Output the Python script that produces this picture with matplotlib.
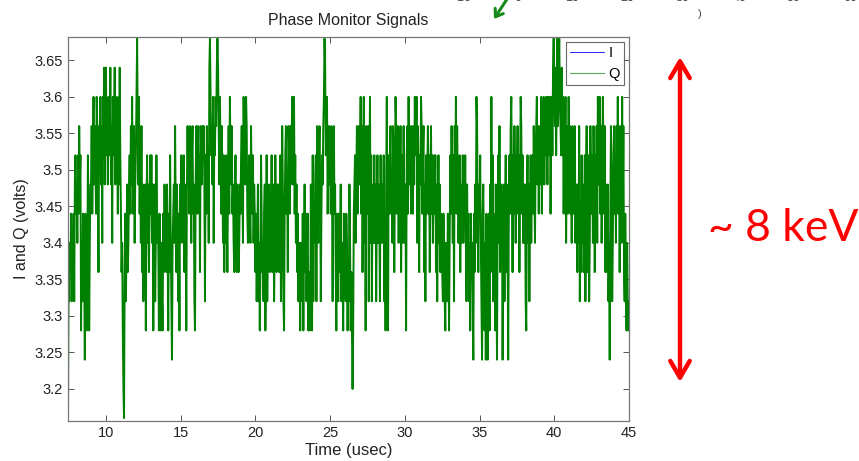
import numpy as np
import matplotlib
matplotlib.use("Agg")
from matplotlib import pyplot as plt
from matplotlib.ticker import FormatStrFormatter

# quantised Q samples, one char per sample (index into q_volts)
q_volts = [3.16, 3.20, 3.24, 3.28, 3.32, 3.36, 3.40, 3.44, 3.48,
           3.52, 3.56, 3.60, 3.64, 3.68]
q_levels = [
    "0546574657489",
    "78697a893647" "652763597368",
    "8a79b8a97ba8" "5a9b8a6b9c8a",
    "c9a8ba9c8a6b" "9ac8b9a7b8c9",
    "756310574685" "6897a8b79a68",
    "9bda8b796a58" "467837968579",
    "796837846976" "637536437586",
    "758637596426" "786a75864738",
    "69786958738a" "897a869a7843",
    "8a97a895a98a" "9a8497a896cd",
    "b9a8b6a9bacd" "ca8b97a86958",
    "69758a7b98a7" "865796587568",
    "79a86b9a8ba7" "68976a879687",
    "574684635975" "647835946785",
    "769578469758" "6857946a8437",
    "9a785a97a89b" "8ab796857465",
    "365473685746" "735438639476",
    "894a769a8479" "8abdc9ab79a8",
    "97a849a78537" "647568465375",
    "547635486353" "1378968a79a8",
    "9b7a58b693a8" "7a48b6947869",
    "684796874967" "8694738b6397",
    "9a786a958ba7" "8a697a5896a7",
    "6839a7b8a97a" "97a8b9ab6a85",
    "98ba79a58497" "8a7958a79689",
    "795847968576" "547643654763",
    "697a8694a8b7" "a86795867968",
    "796485746375" "6427586ba758",
    "796427853627" "5267385b6947",
    "63852796a578" "726847958627",
    "97ab8597a869" "8a7958ba7968",
    "684379684796" "897a869ab8a7",
    "9a8b79ab8a9b" "a8b9ab7ab9cd",
    "bac9bdacdba9" "c9b7a8b69a7b",
    "8a796a879a68" "7586a4759685",
    "6948a57946a8" "796a8597a6b8",
    "9b7a68b97a58" "7584627a8469",
    "a796a8b795a8" "6b7a547536434",
]
t_start, t_end = 7.46, 45.0
x_ticks = [10, 15, 20, 25, 30, 35, 40, 45]
y_ticks = [3.2, 3.25, 3.3, 3.35, 3.4, 3.45, 3.5, 3.55, 3.6, 3.65]
top_labels = ["-10", "0", "10", "20", "30", "40", "50", "60"]
top_label_x = [463, 518, 572, 627, 683, 740, 793, 850]

q = np.array([q_volts[int(c, 16)] for c in "".join(q_levels)])
t = np.linspace(t_start, t_end, len(q))

plt.rcParams['font.family'] = ['Liberation Sans', 'DejaVu Sans']

W, H = 859, 461
fig = plt.figure(figsize=(W / 100, H / 100), dpi=100)
ax = fig.add_axes([68 / W, 1 - 421 / H, (629 - 68) / W, (421 - 37) / H])

ax.plot([], [], color='#0000ff', lw=0.6, label='I')
ax.plot(t, q, color='#008000', lw=1.4, label='Q')

ax.set_xlim(t_start, t_end)
ax.set_ylim(3.156, 3.682)
ax.set_xticks(x_ticks)
ax.set_yticks(y_ticks)
ax.yaxis.set_major_formatter(FormatStrFormatter('%g'))
ax.tick_params(direction='in', top=True, right=True, length=4, width=0.7,
               color='#555555', labelsize=10.5, labelcolor='#222222')
for s in ax.spines.values():
    s.set_color('#777777')
    s.set_linewidth(0.9)

ax.set_title('Phase Monitor Signals', fontsize=11.5, color='#222222', pad=9)
ax.set_xlabel('Time (usec)', fontsize=12, color='#222222', labelpad=2)
ax.set_ylabel('I and Q (volts)', fontsize=11.5, color='#222222', labelpad=4)

leg = ax.legend(loc='upper right', fontsize=10.5, fancybox=False,
                borderaxespad=0.35, handlelength=2.3, handletextpad=0.3,
                labelspacing=0.45, borderpad=0.3)
leg.get_frame().set_edgecolor('#444444')
leg.get_frame().set_linewidth(0.8)
leg.get_lines()[1].set_linewidth(0.8)
leg.get_lines()[1].set_color('#5aa85a')

# red span arrow and note on the right
ax.annotate('', xy=(680 / W, 1 - 57 / H), xytext=(680 / W, 1 - 382 / H),
            xycoords='figure fraction', textcoords='figure fraction',
            arrowprops=dict(arrowstyle='<->,head_length=1.2,head_width=0.7',
                            color='#ff0000', lw=3.2, shrinkA=0, shrinkB=0),
            annotation_clip=False)
fig.text(708 / W, 1 - 228 / H, '~ 8 keV', color='#ff0000', fontsize=32,
         family=['Lato', 'DejaVu Sans'], va='center', ha='left')

# fragments of a neighbouring figure cut off at the top edge
for lab, xp in zip(top_labels, top_label_x):
    fig.text(xp / W, 1 - 4 / H, lab, fontsize=9, color='#444444',
             ha='center', va='bottom')
fig.text(700 / W, 1 - 14 / H, ')', fontsize=8, color='#444444',
         ha='center', va='center')
ax.annotate('', xy=(494 / W, 1 - 19 / H), xytext=(509 / W, 1 + 4 / H),
            xycoords='figure fraction', textcoords='figure fraction',
            arrowprops=dict(arrowstyle='->,head_length=0.5,head_width=0.35',
                            color='#1a8a1a', lw=2.2, shrinkA=0, shrinkB=0),
            annotation_clip=False)

fig.savefig('out.png', dpi=100)
